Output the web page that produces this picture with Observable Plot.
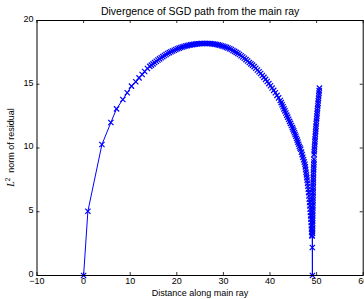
<!DOCTYPE html>
<html>
<head>
<meta charset="utf-8">
<script src="https://cdn.jsdelivr.net/npm/d3@7"></script>
<script src="https://cdn.jsdelivr.net/npm/@observablehq/plot@0.6"></script>
<style>
  html, body { margin: 0; padding: 0; background: #fff; }
  svg { display: block; }
</style>
</head>
<body>
<div id="chart"></div>
<script>
const titleText = "Divergence of SGD path from the main ray";
const xLabelText = "Distance along main ray";
const xTicks = [-10, 0, 10, 20, 30, 40, 50, 60];
const yTicks = [0, 5, 10, 15, 20];

// rising part
const distanceRise = [0, 0.92, 3.93, 5.85, 7.07, 8.42, 9.36, 10.28, 11.2, 11.9, 12.57, 13.1, 13.7,
  14.2, 14.55, 14.9, 15.25, 15.6, 15.95, 16.3, 16.65, 17.0, 17.35, 17.7, 18.05, 18.4, 18.75, 19.1, 19.45,
  19.8, 20.15, 20.5, 20.85, 21.2, 21.55, 21.9, 22.25, 22.6, 22.95, 23.3, 23.65, 24.0, 24.35, 24.7, 25.05,
  25.4, 25.75, 26.1, 26.45];
const residualRise = [0, 5.04, 10.27, 12.0, 13.07, 13.8, 14.33, 14.85, 15.2, 15.5, 15.76, 16.0, 16.24,
  16.40, 16.50, 16.60, 16.70, 16.80, 16.90, 16.99, 17.08, 17.17, 17.25, 17.33, 17.41, 17.48, 17.55, 17.61, 17.67,
  17.73, 17.78, 17.83, 17.88, 17.92, 17.96, 18.00, 18.03, 18.06, 18.09, 18.11, 18.13, 18.15, 18.17, 18.18, 18.19,
  18.20, 18.20, 18.20, 18.20];

// falling part
const distanceFall = [26.8, 27.15, 27.5, 27.85, 28.2, 28.55, 28.9, 29.25, 29.6, 29.95, 30.3, 30.65, 31.0,
  31.35, 31.7, 32.05, 32.4, 32.75, 33.1, 33.45, 33.8, 34.15, 34.5, 34.85, 35.2, 35.55, 35.9,
  36.25, 36.6, 36.95, 37.3, 37.65, 38.0, 38.35, 38.7, 39.05, 39.4, 39.75, 40.1, 40.45, 40.8, 41.15, 41.5, 41.85, 42.2,
  42.4, 42.6, 42.8, 43.0, 43.2, 43.4, 43.6, 43.8, 44.0, 44.2, 44.4, 44.6, 44.8,
  44.95, 45.1, 45.25, 45.4, 45.55, 45.7, 45.85, 46.0, 46.15, 46.3, 46.45, 46.6, 46.75, 46.9, 47.05, 47.2, 47.35, 47.5,
  47.58, 47.66, 47.74, 47.82, 47.9, 47.98, 48.06, 48.14, 48.22, 48.3, 48.37, 48.44, 48.5, 48.56, 48.62, 48.68,
  48.73, 48.78, 48.83, 48.87, 48.91, 48.95, 48.99, 49.05, 49.08, 49.1];
const residualFall = [18.20, 18.19, 18.18, 18.16, 18.14, 18.12, 18.09, 18.06, 18.02, 17.98, 17.94, 17.89, 17.84,
  17.78, 17.72, 17.65, 17.58, 17.50, 17.42, 17.33, 17.24, 17.14, 17.04, 16.93, 16.82, 16.70, 16.60,
  16.50, 16.38, 16.25, 16.12, 15.98, 15.84, 15.69, 15.54, 15.38, 15.22, 15.05, 14.88, 14.70, 14.52, 14.33, 14.13, 13.93, 13.72,
  13.56, 13.39, 13.23, 13.07, 12.91, 12.74, 12.58, 12.42, 12.25, 12.09, 11.93, 11.77, 11.60,
  11.47, 11.34, 11.2, 11.06, 10.92, 10.77, 10.62, 10.46, 10.3, 10.13, 10.0, 9.9, 9.68, 9.48, 9.28, 9.08, 8.90, 8.72,
  8.52, 8.31, 8.1, 7.89, 7.68, 7.47, 7.24, 7.0, 6.76, 6.5, 6.24, 5.98, 5.72, 5.46, 5.2, 4.94,
  4.68, 4.42, 4.16, 3.9, 3.64, 3.4, 3.15, 3.1, 2.2, 0];

// second rise near the end
const distanceBack = [49.12, 49.12, 49.13, 49.13, 49.14, 49.14, 49.15, 49.16, 49.17, 49.18, 49.19, 49.2, 49.21,
  49.22, 49.23, 49.24, 49.25, 49.26, 49.27, 49.28, 49.29, 49.3, 49.31, 49.32, 49.34, 49.36, 49.38, 49.4, 49.42, 49.44,
  49.47, 49.5, 49.53, 49.56, 49.6, 49.63, 49.67, 49.71, 49.75, 49.79, 49.83, 49.87, 49.91, 49.96, 50.01, 50.06, 50.11,
  50.16, 50.21, 50.26, 50.31, 50.36, 50.41, 50.46, 50.51, 50.56, 50.61];
const residualBack = [3.3, 3.5, 3.7, 3.9, 4.1, 4.3, 4.5, 4.7, 4.9, 5.1, 5.3, 5.5, 5.7,
  5.9, 6.1, 6.3, 6.5, 6.7, 6.9, 7.1, 7.3, 7.5, 7.7, 7.9, 8.1, 8.3, 8.5, 8.7, 8.9, 9.1,
  9.5, 9.7, 9.9, 10.1, 10.3, 10.5, 10.7, 10.9, 11.1, 11.3, 11.5, 11.7, 11.9, 12.1, 12.3, 12.5, 12.7,
  12.9, 13.1, 13.3, 13.5, 13.7, 13.9, 14.1, 14.3, 14.5, 14.7];

const distance = [...distanceRise, ...distanceFall, ...distanceBack];
const residual = [...residualRise, ...residualFall, ...residualBack];
const path = distance.map((x, i) => ({x, y: residual[i]}));

const W = 364, H = 299;
const mL = 36.5, mR = 1.3, mT = 20, mB = 24;
const fw = W - mL - mR, fh = H - mT - mB;
const tk = 3;

const chart = Plot.plot({
  width: W,
  height: H,
  marginLeft: mL,
  marginRight: mR,
  marginTop: mT,
  marginBottom: mB,
  style: {fontFamily: "'Liberation Sans', Arial, sans-serif", fontSize: "9px", background: "white", overflow: "visible"},
  x: {domain: [-10, 60]},
  y: {domain: [0, 20]},
  marks: [
    Plot.axisX({ticks: xTicks, tickSize: 0, tickPadding: 2.5, tickFormat: d => d < 0 ? "\u2212" + Math.abs(d) : String(d), label: null, fontSize: 9}),
    Plot.axisY({ticks: yTicks, tickSize: 0, tickPadding: 3.5, dy: -1.5, label: null, fontSize: 9}),
    Plot.tickX(xTicks, {x: d => d, insetTop: fh - tk, stroke: "black", strokeWidth: 0.8}),
    Plot.tickX(xTicks, {x: d => d, insetBottom: fh - tk, stroke: "black", strokeWidth: 0.8}),
    Plot.tickY(yTicks, {y: d => d, insetRight: fw - tk, stroke: "black", strokeWidth: 0.8}),
    Plot.tickY(yTicks, {y: d => d, insetLeft: fw - tk, stroke: "black", strokeWidth: 0.8}),
    Plot.line(path, {x: "x", y: "y", stroke: "#0000ff", strokeWidth: 1}),
    Plot.dot(path, {x: "x", y: "y", symbol: "times", r: 2.5, stroke: "#0000ff", strokeWidth: 1.2}),
    Plot.frame({stroke: "black", strokeWidth: 1}),
    Plot.text([titleText], {frameAnchor: "top", dy: -6, lineAnchor: "bottom", fontSize: 10.5, fill: "black"}),
    Plot.text([xLabelText], {frameAnchor: "bottom", dy: 18, lineAnchor: "middle", fontSize: 9, fill: "black"})
  ]
});
document.getElementById("chart").appendChild(chart);

// y-axis label with italic L and superscript 2
const svg = d3.select(chart);
const cy = mT + fh / 2;
const yl = svg.append("text")
  .attr("transform", `translate(14,${cy}) rotate(-90)`)
  .attr("text-anchor", "middle")
  .attr("font-family", "'Liberation Sans', Arial, sans-serif")
  .attr("font-size", 9)
  .attr("fill", "black");
yl.append("tspan").attr("font-family", "'Liberation Serif', 'DejaVu Serif', serif").attr("font-style", "italic").attr("font-size", 10).text("L");
yl.append("tspan").attr("font-size", 6.5).attr("dy", -4).text("2");
yl.append("tspan").attr("dy", 4).text("\u00a0 norm of residual");
</script>
</body>
</html>
